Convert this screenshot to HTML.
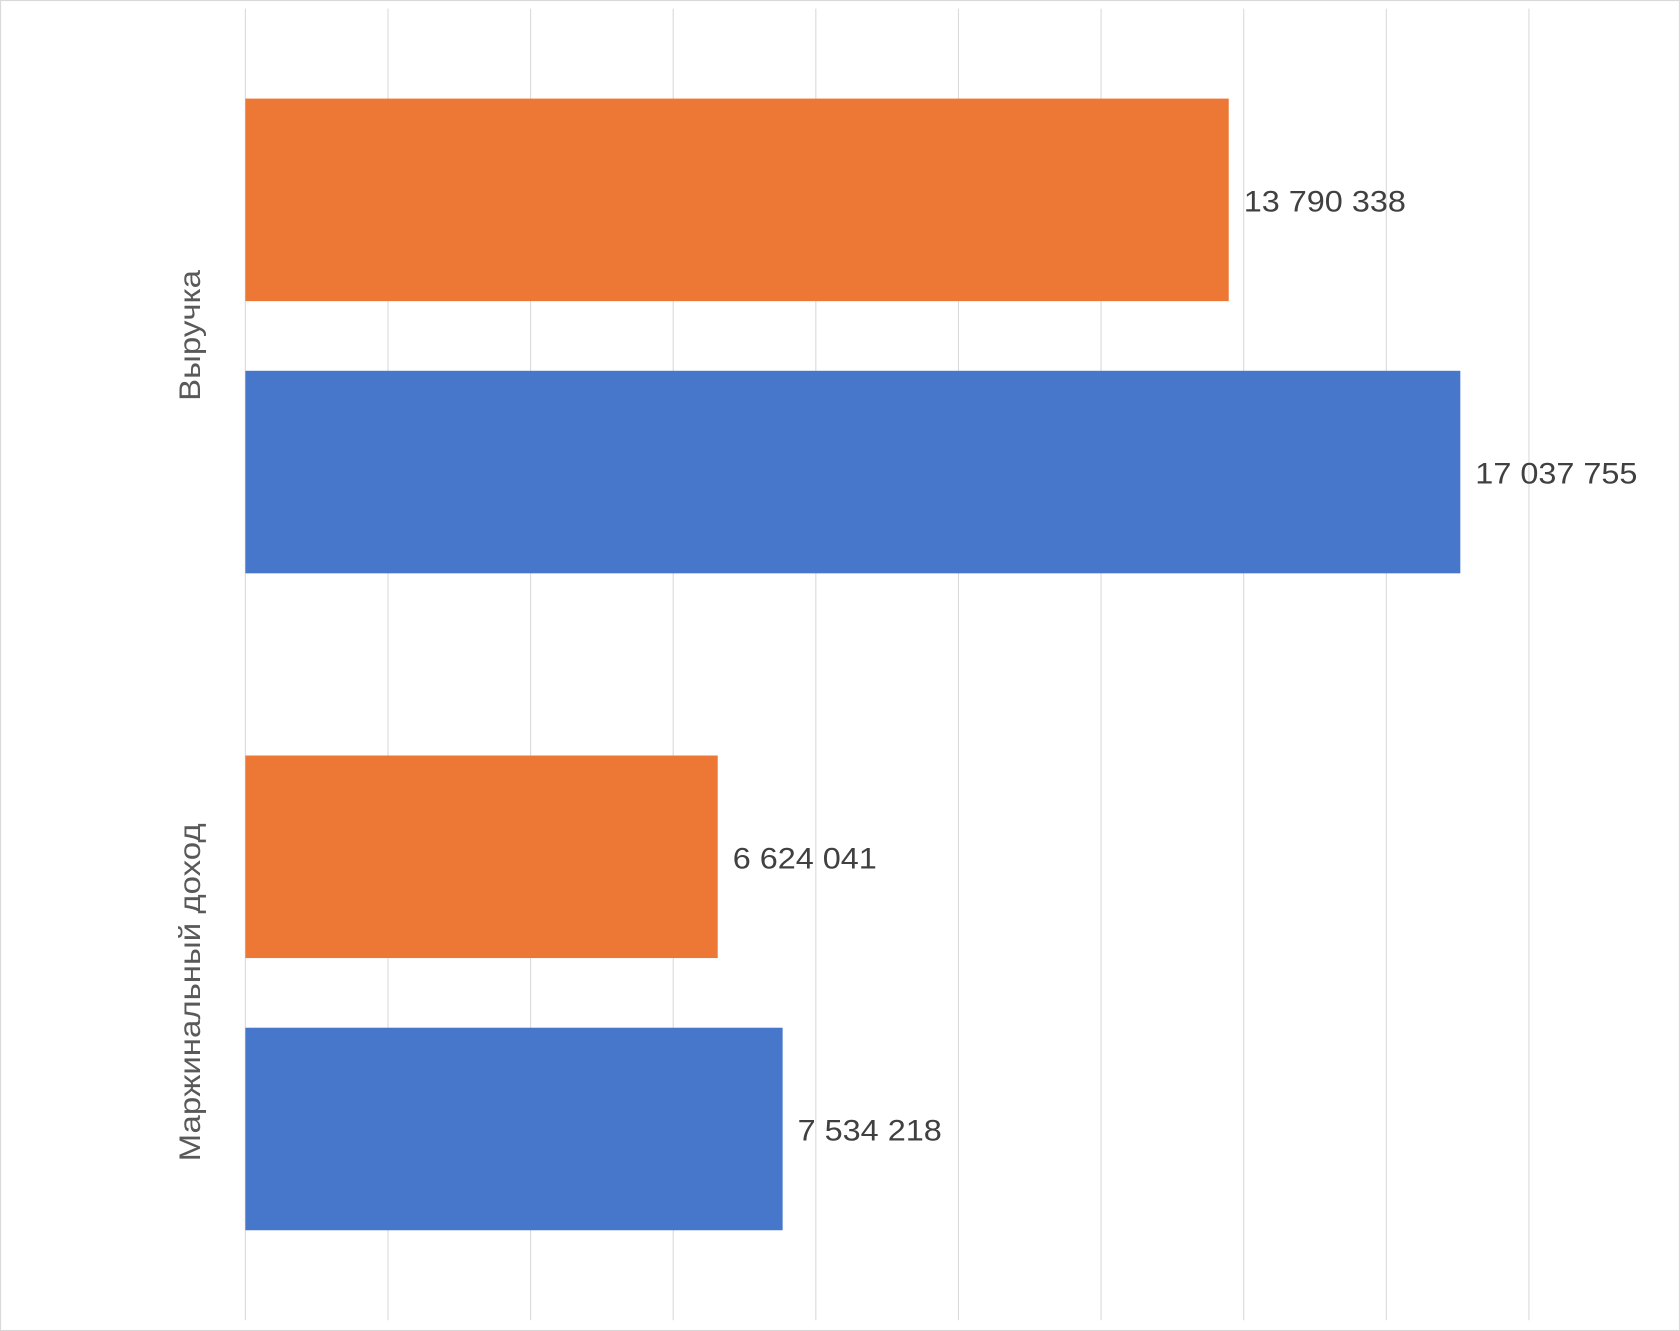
<!DOCTYPE html>
<html><head><meta charset="utf-8"><style>
html,body{margin:0;padding:0;background:#fff;}
svg{display:block;}
text{font-family:"Liberation Sans","DejaVu Sans",sans-serif;}
</style></head><body>
<svg id="chart" width="1680" height="1331" viewBox="0 0 1568 1242" preserveAspectRatio="none" xmlns="http://www.w3.org/2000/svg">
<rect x="0.5" y="0.5" width="1567" height="1241" fill="#fff" stroke="#d9d9d9" stroke-width="1"/>
<g id="grid"></g><g id="bars"></g><g id="labels"></g>
</svg>
<script>
const categories = ["Выручка", "Маржинальный доход"];
const seriesOrange = [13790338, 6624041];
const seriesBlue = [17037755, 7534218];
const valueLabelsOrange = ["13 790 338", "6 624 041"];
const valueLabelsBlue = ["17 037 755", "7 534 218"];
const gridTicks = [0,2e6,4e6,6e6,8e6,10e6,12e6,14e6,16e6,18e6];

const NS = "http://www.w3.org/2000/svg";
const x0 = 229, x1 = 1427, xMax = 18e6;
const xs = v => x0 + (v / xMax) * (x1 - x0);
const catTop = [92, 705];
const grid = document.getElementById('grid'), bars = document.getElementById('bars'), labels = document.getElementById('labels');
function mk(tag, attrs, parent){const e=document.createElementNS(NS,tag);for(const k in attrs)e.setAttribute(k,attrs[k]);parent.appendChild(e);return e;}
function stretch(t, f){const w=t.getComputedTextLength();t.setAttribute('textLength', w*f);t.setAttribute('lengthAdjust','spacingAndGlyphs');}
gridTicks.forEach(t=>{
  const l = mk('line',{x1:xs(t),x2:xs(t),y1:8,y2:1232,stroke:'#d9d9d9','stroke-width':1},grid);
  
  
});
categories.forEach((c,i)=>{
  const top = catTop[i];
  const specs = [[seriesOrange[i], valueLabelsOrange[i], '#ed7734', top, 'orange'],[seriesBlue[i], valueLabelsBlue[i], '#4677ca', top+254, 'blue']];
  specs.forEach(s=>{
    const r = mk('rect',{x:x0,y:s[3],width:xs(s[0])-x0,height:189,fill:s[2]},bars);
    
    
    const t = mk('text',{x:xs(s[0])+14,y:s[3]+96.5,'font-size':28,fill:'#404040','dominant-baseline':'central'},labels);
    t.textContent = s[1];
    
    
    stretch(t, 1.08);
  });
  const cy = top + 221;
  const ct = mk('text',{x:178,y:cy,'font-size':28,fill:'#595959','text-anchor':'middle','dominant-baseline':'central',transform:'rotate(-90 178 '+cy+')'},labels);
  ct.textContent = c;
  
  
  stretch(ct, 1.1);
});
</script>
</body></html>
